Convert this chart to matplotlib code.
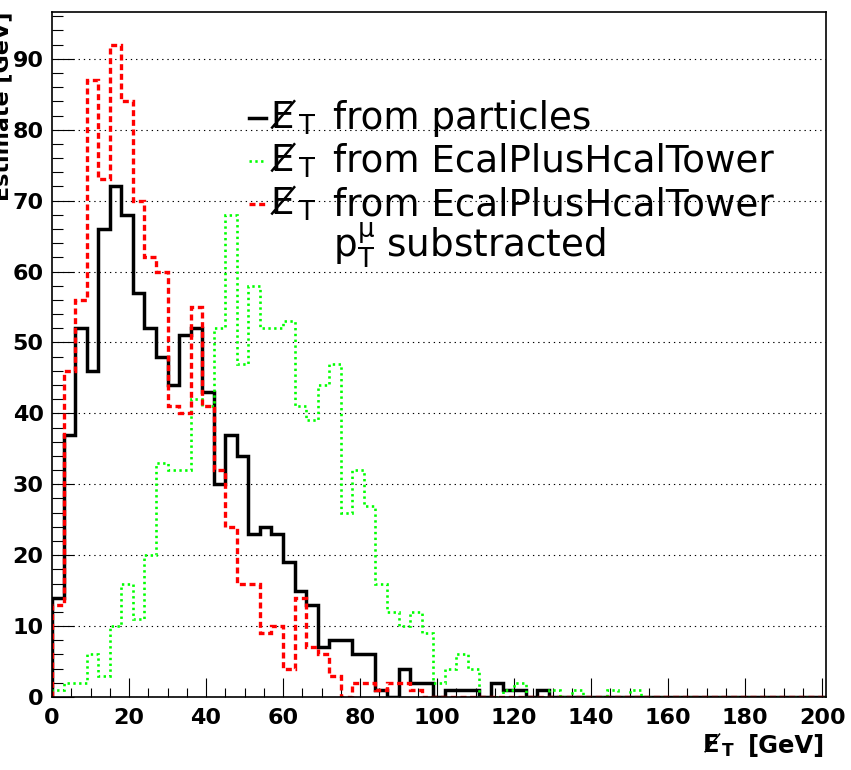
import numpy as np
import matplotlib
matplotlib.use("Agg")
import matplotlib.pyplot as plt
from matplotlib.lines import Line2D
from matplotlib.ticker import MultipleLocator
from matplotlib.mathtext import MathTextParser

# ---------------- data (3 GeV bins from 0 to 201) ----------------
bin_edges = np.arange(0, 202, 3)

met_particles = [14, 37, 52, 46, 66, 72, 68, 57, 52, 48, 44, 51, 52, 43, 30, 37, 34,
                 23, 24, 23, 19, 15, 13, 7, 8, 8, 6, 6, 1, 0, 4, 2, 2, 0, 1, 1, 1,
                 0, 2, 1, 1, 0, 1, 0, 0, 0, 0, 0, 0, 0, 0, 0, 0, 0, 0, 0, 0, 0, 0,
                 0, 0, 0, 0, 0, 0, 0, 0]
met_towers = [1, 2, 2, 6, 3, 10, 16, 11, 20, 33, 32, 32, 42, 41, 52, 68, 47, 58, 52,
              52, 53, 41, 39, 44, 47, 26, 32, 27, 16, 12, 10, 12, 9, 2, 4, 6, 4, 0,
              0, 1, 2, 0, 0, 1, 0, 1, 0, 0, 1, 0, 1, 0, 0, 0, 0, 0, 0, 0, 0, 0, 0,
              0, 0, 0, 0, 0, 0]
met_towers_mu = [13, 46, 56, 87, 73, 92, 84, 70, 62, 60, 41, 40, 55, 41, 32, 24, 16,
                 16, 9, 10, 4, 14, 7, 6, 3, 0, 2, 2, 1, 2, 2, 1, 0, 0, 0, 0, 0, 0,
                 0, 0, 0, 0, 0, 0, 0, 0, 0, 0, 0, 0, 0, 0, 0, 0, 0, 0, 0, 0, 0, 0,
                 0, 0, 0, 0, 0, 0, 0]

x_major_ticks = [0, 20, 40, 60, 80, 100, 120, 140, 160, 180, 200]
y_major_ticks = [0, 10, 20, 30, 40, 50, 60, 70, 80, 90]

legend_labels = ["from particles", "from EcalPlusHcalTower", "from EcalPlusHcalTower"]

W, H = 851, 770
FONT = "DejaVu Sans"
plt.rcParams["font.family"] = [FONT]
plt.rcParams["mathtext.fontset"] = "dejavusans"

fig = plt.figure(figsize=(W / 100, H / 100), dpi=100)
L, R, T, B = 52, 826, 12, 697
ax = fig.add_axes([L / W, 1 - B / H, (R - L) / W, (B - T) / H])

def fx(x):
    return x / W

def fy(y):
    return 1 - y / H

GREEN = "#00ff00"
RED = "#ff0000"
green_ls = (0, (0.9, 1.3))
red_ls = (0, (1.8, 1.1))

ax.set_axisbelow(True)
ax.yaxis.grid(True, color="black", linestyle=(0, (1.2, 3.5)), linewidth=0.8)
ax.xaxis.grid(False)

ax.stairs(met_particles, bin_edges, color="black", linewidth=2.5, baseline=0)
ax.stairs(met_towers, bin_edges, color=GREEN, linewidth=1.9,
          linestyle=green_ls, baseline=0)
ax.stairs(met_towers_mu, bin_edges, color=RED, linewidth=2.4,
          linestyle=red_ls, baseline=0)

ax.set_xlim(0, 201)
ax.set_ylim(0, 96.6)

ax.set_xticks(x_major_ticks)
ax.set_xticklabels([str(v) for v in x_major_ticks])
ax.set_yticks(y_major_ticks)
ax.set_yticklabels([str(v) for v in y_major_ticks])
ax.xaxis.set_minor_locator(MultipleLocator(5))
ax.yaxis.set_minor_locator(MultipleLocator(2))

ax.tick_params(axis="x", which="major", direction="in", length=14, width=0.8,
               pad=8, labelsize=16)
ax.tick_params(axis="x", which="minor", direction="in", length=6.5, width=0.8)
ax.tick_params(axis="y", which="major", direction="in", length=16, width=0.8,
               pad=6, labelsize=16)
ax.tick_params(axis="y", which="minor", direction="in", length=8, width=0.8)
for lab in ax.get_xticklabels() + ax.get_yticklabels():
    lab.set_fontweight("bold")
for s in ax.spines.values():
    s.set_linewidth(1.2)

# ---------------- slashed E via mathtext \not (fallback: overlay "/") ----------------
def _ok(s):
    try:
        MathTextParser("path").parse(s, dpi=100)
        return True
    except Exception:
        return False

def slashed_E(x, y, size, bold=False):
    f = r"\mathbf" if bold else r"\mathrm"
    s = r"$%s{E}\hspace{0.12}\not_{%s{T}}$" % (f, f)
    if not _ok(s):
        s = r"$%s{E}\not_{%s{T}}$" % (f, f)
    if _ok(s):
        fig.text(fx(x), fy(y), s, fontsize=size, ha="left", va="baseline")
    else:
        px = size * 1.389
        w = "bold" if bold else "normal"
        fig.text(fx(x), fy(y), "E", fontsize=size, fontweight=w,
                 ha="left", va="baseline")
        fig.text(fx(x + 0.12 * px), fy(y + 0.1 * px), "/", fontsize=size,
                 fontweight=w, ha="left", va="baseline")
        fig.text(fx(x + 0.68 * px), fy(y + 0.33 * px), "T", fontsize=size * 0.72,
                 fontweight=w, ha="left", va="baseline")

# ---------------- legend ----------------
leg_size = 26.8
rows = [129, 172, 215]
styles = [dict(color="black", lw=2.5, ls="-"),
          dict(color=GREEN, lw=1.9, ls=green_ls),
          dict(color=RED, lw=2.4, ls=red_ls)]
for yb, lab, st in zip(rows, legend_labels, styles):
    ymid = yb - 11
    fig.add_artist(Line2D([fx(249), fx(266)], [fy(ymid), fy(ymid)],
                          transform=fig.transFigure, color=st["color"],
                          linewidth=st["lw"], linestyle=st["ls"]))
    slashed_E(270, yb, leg_size)
    fig.text(fx(333), fy(yb), lab, fontsize=leg_size, ha="left", va="baseline")

fig.text(fx(333), fy(257), r"p$_{\mathrm{T}}^{\mathrm{\mu}}$ substracted",
         fontsize=leg_size, ha="left", va="baseline")

# ---------------- axis titles ----------------
slashed_E(702, 753, 17.5, bold=True)
fig.text(fx(825), fy(753), "[GeV]", fontsize=17.5, fontweight="bold",
         ha="right", va="baseline")
fig.text(fx(8), fy(12), "Estimate [GeV]", fontsize=16, fontweight="bold",
         rotation=90, rotation_mode="anchor", ha="right", va="baseline")

fig.savefig("out.png", dpi=100, facecolor="white")
